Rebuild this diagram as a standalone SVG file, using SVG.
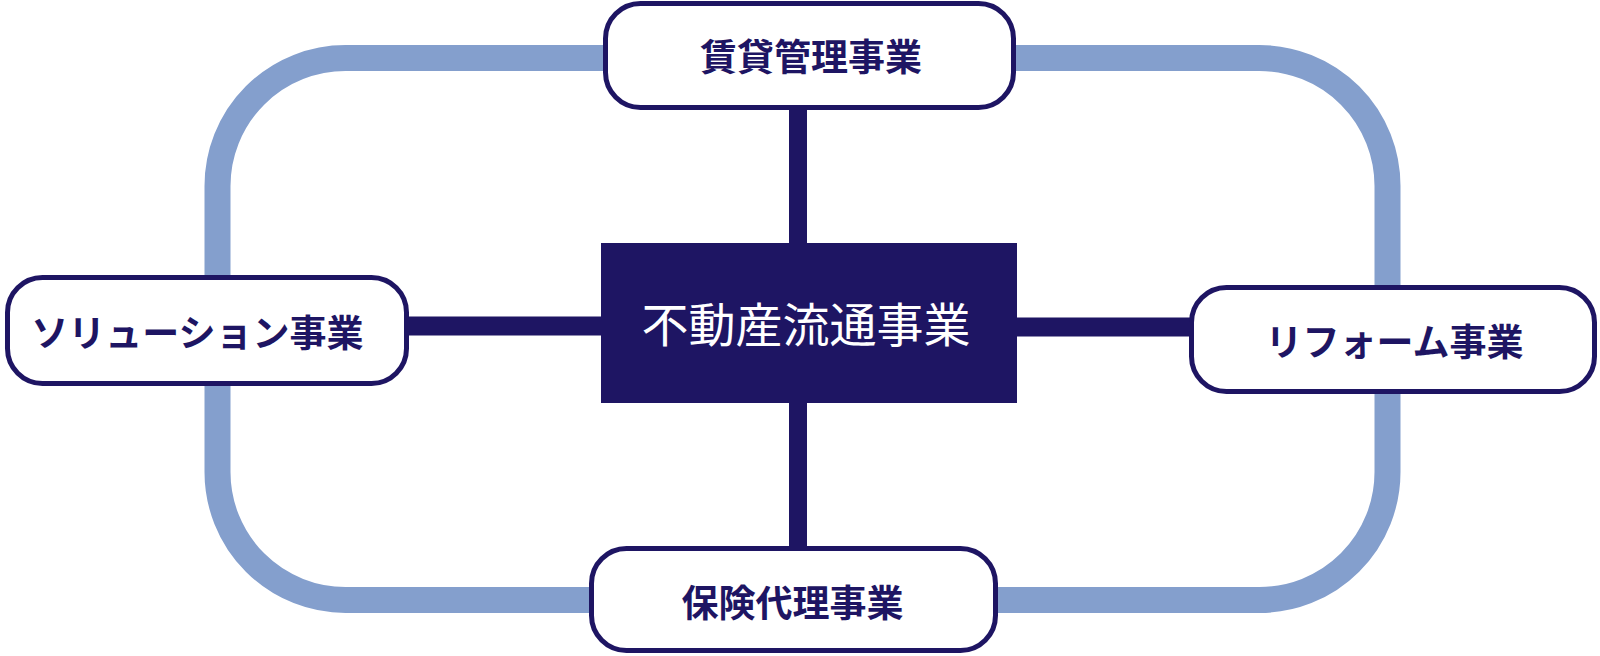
<svg xmlns="http://www.w3.org/2000/svg" width="1600" height="656" viewBox="0 0 1600 656">
<style>
.ring{fill:none;stroke:#849FCD;stroke-width:26}
.conn{stroke:#1E1563;fill:none}
.node{fill:#FFFFFF;stroke:#1E1563;stroke-width:5}
.lbl{font-family:"Noto Sans CJK JP","Noto Sans CJK SC",sans-serif;font-weight:700;font-size:37px;fill:#1E1563;text-anchor:middle;dominant-baseline:central}
.main{font-family:"Noto Sans CJK JP","Noto Sans CJK SC",sans-serif;font-weight:400;font-size:47px;fill:#FFFFFF;text-anchor:middle;dominant-baseline:central}
</style>
<rect width="1600" height="656" fill="#FFFFFF"/>
<g id="ring">
<rect class="ring" x="217.5" y="58" width="1170" height="542" rx="128" ry="128"/>
</g>
<g id="connectors">
<line class="conn" x1="798" y1="108" x2="798" y2="245" stroke-width="18"/>
<line class="conn" x1="798" y1="401" x2="798" y2="548" stroke-width="18"/>
<line class="conn" x1="407" y1="326" x2="603" y2="326" stroke-width="19"/>
<line class="conn" x1="1015" y1="327" x2="1191" y2="327" stroke-width="19"/>
</g>
<g id="center">
<rect x="601" y="243" width="416" height="160" fill="#1E1563"/>
<text class="main" x="806" y="321.5">不動産流通事業</text>
</g>
<g id="top">
<rect class="node" x="605.5" y="3.5" width="408" height="104" rx="35"/>
<text class="lbl" x="811" y="54.5">賃貸管理事業</text>
</g>
<g id="left">
<rect class="node" x="7.5" y="277.5" width="399" height="106" rx="35"/>
<text class="lbl" x="197.5" y="330.5">ソリューション事業</text>
</g>
<g id="right">
<rect class="node" x="1191.5" y="287.5" width="403" height="104" rx="35"/>
<text class="lbl" x="1394.5" y="340">リフォーム事業</text>
</g>
<g id="bottom">
<rect class="node" x="591.5" y="548.5" width="404" height="102" rx="35"/>
<text class="lbl" x="792.5" y="600.5">保険代理事業</text>
</g>
</svg>
